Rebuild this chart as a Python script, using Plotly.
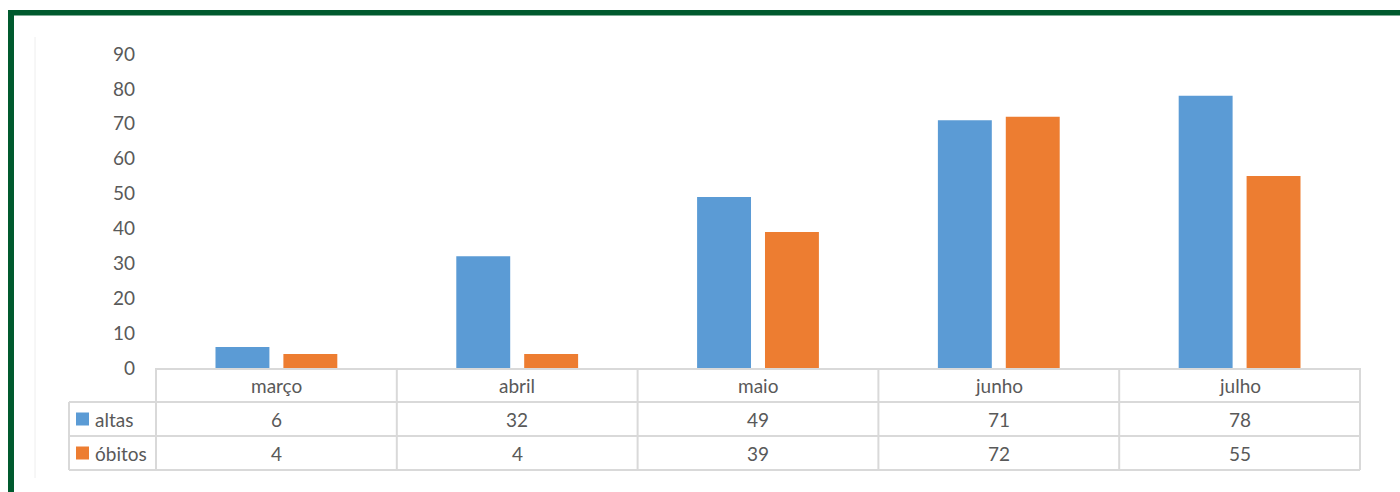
import plotly.graph_objects as go

categories = ["março", "abril", "maio", "junho", "julho"]
altas = [6, 32, 49, 71, 78]
obitos = [4, 4, 39, 72, 55]
series_names = ["altas", "óbitos"]
series_colors = ["#5B9BD5", "#ED7D31"]
y_ticks = [0, 10, 20, 30, 40, 50, 60, 70, 80, 90]

W, H = 1400, 492
L, R, T, B = 156, 1360, 54, 368  # plot area in pixels

def px(x):
    return (x - L) / (R - L)

def py(y):
    return (B - y) / (B - T)

FONT = "Lato"
TXT = "#595959"
GRID = "#d9d9d9"

fig = go.Figure()
for name, vals, col in zip(series_names, [altas, obitos], series_colors):
    fig.add_trace(go.Bar(x=categories, y=vals, name=name, marker=dict(color=col, line=dict(width=0)),
                         showlegend=False))

shapes = []
# green frame
shapes.append(dict(type="rect", xref="paper", yref="paper", x0=px(8), x1=px(1400), y0=py(10), y1=py(15.5),
                   fillcolor="#005A2E", line=dict(width=0), layer="above"))
shapes.append(dict(type="rect", xref="paper", yref="paper", x0=px(8), x1=px(14), y0=py(10), y1=py(492),
                   fillcolor="#005A2E", line=dict(width=0), layer="above"))
# faint chart area edge
shapes.append(dict(type="line", xref="paper", yref="paper", x0=px(35), x1=px(35), y0=py(37), y1=py(478),
                   line=dict(color="#eeeeee", width=1)))

n = len(categories)
row_y = [368, 402, 436, 470]
# horizontal table lines
for yy in row_y[1:]:
    shapes.append(dict(type="line", xref="paper", yref="paper", x0=px(69), x1=1, y0=py(yy), y1=py(yy),
                       line=dict(color=GRID, width=2)))
# vertical table lines at category boundaries
for i in range(n + 1):
    shapes.append(dict(type="line", xref="paper", yref="paper", x0=i / n, x1=i / n, y0=py(368), y1=py(470),
                       line=dict(color=GRID, width=2)))
shapes.append(dict(type="line", xref="paper", yref="paper", x0=px(69), x1=px(69), y0=py(402), y1=py(470),
                   line=dict(color=GRID, width=2)))

annotations = []
# category labels
for c in categories:
    annotations.append(dict(x=c, xref="x", y=py((row_y[0] + row_y[1]) / 2), yref="paper", text=c,
                            xanchor="center", yanchor="middle",
                            showarrow=False, font=dict(family=FONT, size=19, color=TXT)))
# value rows
for r, vals in enumerate([altas, obitos]):
    yc = py((row_y[r + 1] + row_y[r + 2]) / 2)
    for c, v in zip(categories, vals):
        annotations.append(dict(x=c, xref="x", y=yc, yref="paper", text=str(v), showarrow=False,
                                xanchor="center", yanchor="middle",
                                font=dict(family=FONT, size=19, color=TXT)))
    # legend key
    shapes.append(dict(type="rect", xref="paper", yref="paper", x0=px(76), x1=px(89),
                       y0=yc - 6.5 / (B - T), y1=yc + 6.5 / (B - T),
                       fillcolor=series_colors[r], line=dict(width=0)))
    annotations.append(dict(x=px(93), xref="paper", y=yc, yref="paper", text=series_names[r],
                            xanchor="left", yanchor="middle", showarrow=False,
                            font=dict(family=FONT, size=19, color=TXT)))

fig.update_layout(
    width=W, height=H,
    margin=dict(l=L, r=W - R, t=T, b=H - B, pad=0),
    paper_bgcolor="white", plot_bgcolor="white",
    barmode="group", bargap=0.436, bargroupgap=0.206,
    shapes=shapes, annotations=annotations,
    xaxis=dict(showticklabels=False, ticks="", showgrid=False, zeroline=False,
               showline=True, linecolor=GRID, linewidth=2),
    yaxis=dict(range=[0, 90], tickvals=y_ticks, showgrid=False, zeroline=False, showline=False,
               ticks="", ticklabelstandoff=20,
               tickfont=dict(family=FONT, size=19, color=TXT)),
)

fig.write_html("out.html")
